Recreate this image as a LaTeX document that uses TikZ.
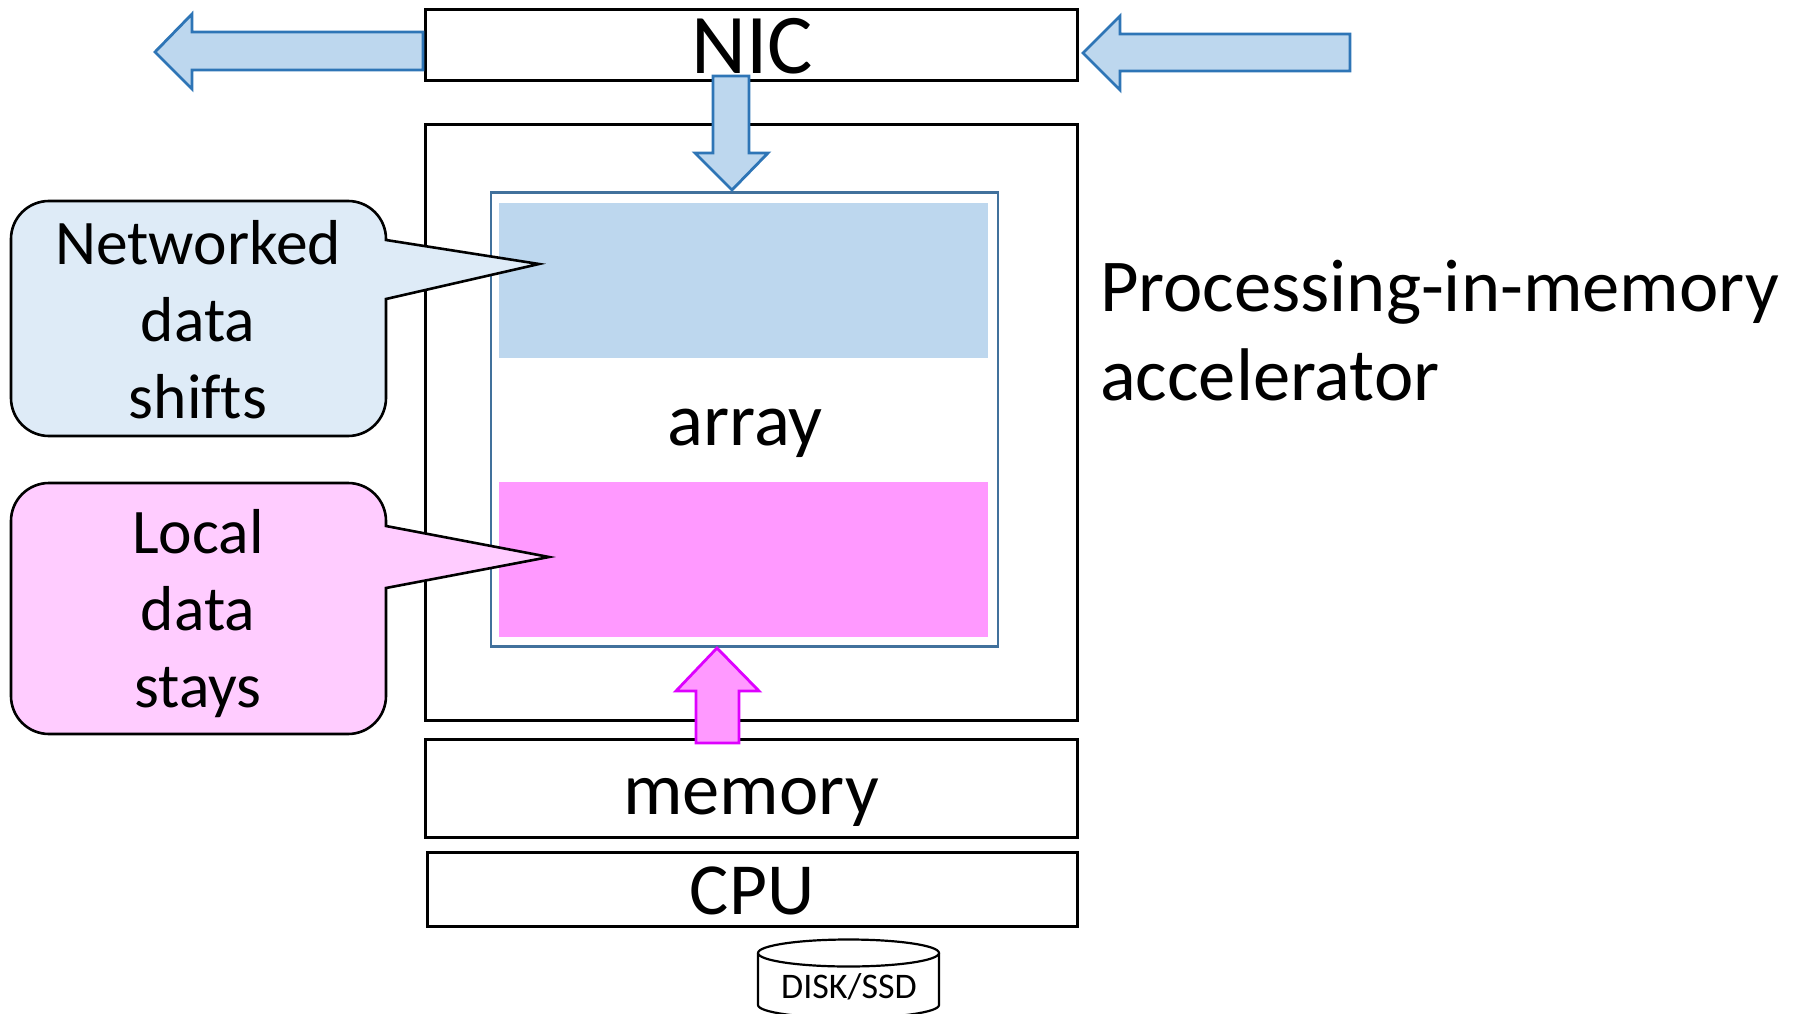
\documentclass[tikz,border=0pt]{standalone}
\usepackage{fontspec}
\setmainfont[Ligatures=NoCommon]{Carlito}
\definecolor{arrowblue}{HTML}{BDD7EE}
\definecolor{strokeblue}{HTML}{2E75B6}
\definecolor{framesteel}{HTML}{41719C}
\definecolor{calloutblue}{HTML}{DEEBF7}
\definecolor{calloutpink}{HTML}{FFCCFF}
\definecolor{fillpink}{HTML}{FF99FF}
\definecolor{strokepink}{HTML}{DD00FF}
\newcommand{\fs}[2]{\fontsize{#1}{#2}\selectfont}
\tikzset{
  boxed/.style={draw=black,line width=3pt,fill=white,inner sep=0pt,outer sep=0pt},
  framebox/.style={draw=framesteel,line width=2.6pt,fill=white,inner sep=0pt,outer sep=0pt},
  band/.style={inner sep=0pt,outer sep=0pt},
  label/.style={inner sep=0pt,outer sep=0pt,anchor=base},
  bluearrow/.style={draw=strokeblue,line width=2.8pt,fill=arrowblue,line join=miter},
  pinkarrow/.style={draw=strokepink,line width=2.8pt,fill=fillpink,line join=miter},
  callout/.style={draw=black,line width=2.6pt,line join=miter},
}
\begin{document}
\begin{tikzpicture}[x=1pt,y=-1pt]
\useasboundingbox (0,0) rectangle (1796,1014);
\clip (0,0) rectangle (1796,1014);
% boxes
\node[boxed,minimum width=652pt,minimum height=596pt] (main) at (751,422.5) {};
\node[boxed,minimum width=652pt,minimum height=71pt] (nic) at (751,45.5) {};
\node[boxed,minimum width=652pt,minimum height=98pt] (memory) at (751,788) {};
\node[boxed,minimum width=650pt,minimum height=74pt] (cpu) at (752,889) {};
\node[framebox,minimum width=507pt,minimum height=454pt] (array) at (744.5,419.5) {};
\node[band,fill=arrowblue,minimum width=489pt,minimum height=155pt] (netband) at (743.5,280.5) {};
\node[band,fill=fillpink,minimum width=489pt,minimum height=155pt] (localband) at (743.5,559.5) {};
% callouts
\draw[callout,fill=calloutblue] (386,240) -- (539,264) -- (386,299) [rounded corners=38pt] -- (386,436) -- (11,436) -- (11,201) -- (386,201) [sharp corners] -- cycle;
\draw[callout,fill=calloutpink] (386,526) -- (549,557) -- (386,588) [rounded corners=38pt] -- (386,734) -- (11,734) -- (11,483) -- (386,483) [sharp corners] -- cycle;
% block arrows
\draw[bluearrow] (423,32) -- (192,32) -- (192,14) -- (155,52) -- (192,89) -- (192,70) -- (423,70) -- cycle;
\draw[bluearrow] (1350,34) -- (1120,34) -- (1120,16) -- (1083,53) -- (1120,90) -- (1120,71) -- (1350,71) -- cycle;
\draw[bluearrow] (713,76) -- (749,76) -- (749,153) -- (768,153) -- (732,190) -- (695,153) -- (713,153) -- cycle;
\draw[pinkarrow] (696,743) -- (696,691) -- (676,691) -- (717,648) -- (759,691) -- (739,691) -- (739,743) -- cycle;
% disk
\draw[line width=2.2pt,fill=white] (758,953) -- (758,1005) arc[start angle=180,end angle=360,x radius=90.5pt,y radius=13pt] -- (939,953);
\draw[line width=2.2pt,fill=white] (848.5,953) ellipse[x radius=90.5pt,y radius=13.5pt];
% labels
\node[label,font=\fs{85}{90}] (niclabel) at (752,74) {NIC};
\node[label,font=\fs{75}{80}] (arraylabel) at (745,445) {array};
\node[label,font=\fs{74.5}{80}] (memorylabel) at (751,814) {memory};
\node[label,font=\fs{73.5}{80}] (cpulabel) at (752,914) {CPU};
\node[label,font=\fs{36}{40}] (disklabel) at (849,998) {DISK/SSD};
\node[label,font=\fs{63.5}{77},align=center] (netlabel) at (198,418) {Networked\\data\\shifts};
\node[label,font=\fs{63.5}{77},align=center] (locallabel) at (198,707.5) {Local\\data\\stays};
\node[label,font=\fs{74.6}{89},align=left,anchor=base west] (pimlabel) at (1100,400) {Processing-in-memory\\accelerator};
\end{tikzpicture}
\end{document}
